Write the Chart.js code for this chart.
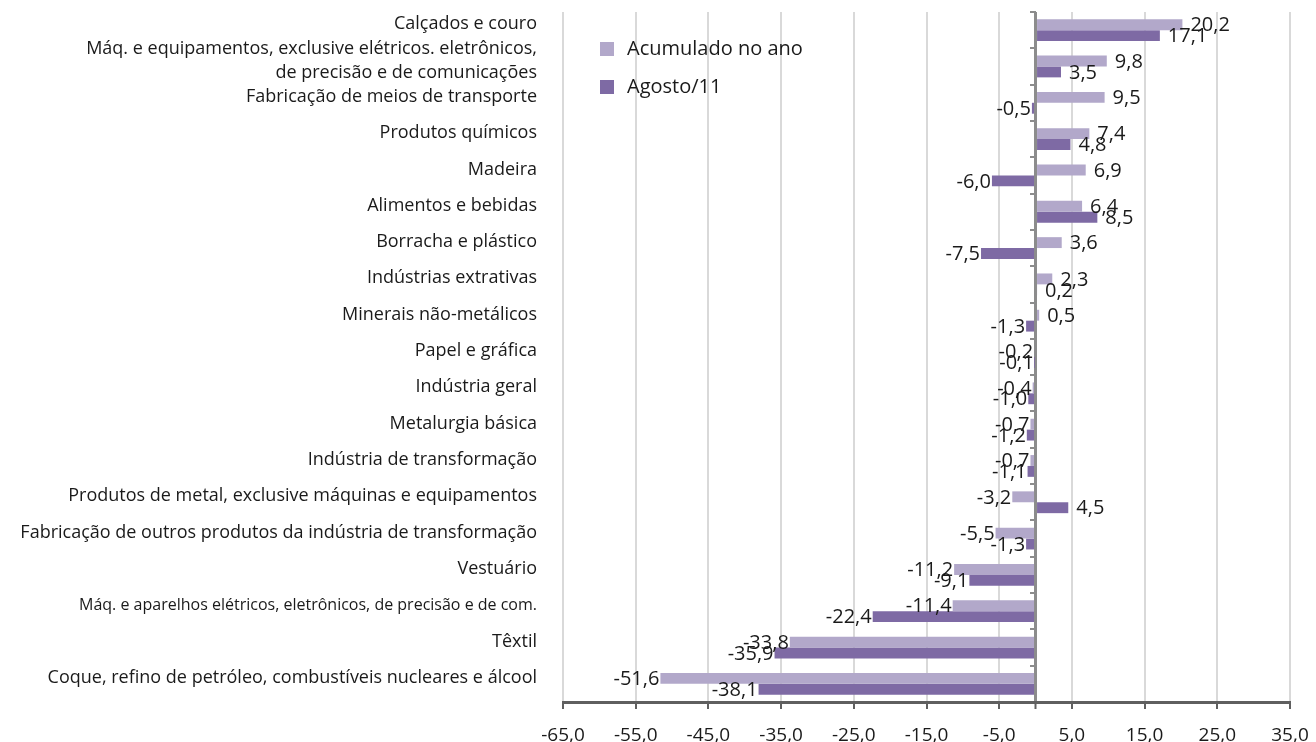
<!DOCTYPE html>
<html>
<head>
<meta charset="utf-8">
<script src="https://cdn.jsdelivr.net/npm/chart.js@4.4.1/dist/chart.umd.min.js"></script>
<style>
  body { margin: 0; background: #fff; }
  #wrap { position: relative; width: 1316px; height: 742px; }
  #legend { position: absolute; left: 600px; top: 34px; font-family: "Open Sans", sans-serif; font-size: 20px; color: #1a1a1a; }
  #legend div { height: 38px; line-height: 28px; white-space: nowrap; }
  #legend span { display: inline-block; width: 14px; height: 14px; margin-right: 13px; vertical-align: -1px; }
</style>
</head>
<body>
<div id="wrap">
  <canvas id="graph" width="1316" height="742"></canvas>
  <div id="legend"></div>
</div>
<script>
var categorias = [
  "Calçados e couro",
  ["Máq. e equipamentos, exclusive elétricos. eletrônicos,", "de precisão e de comunicações"],
  "Fabricação de meios de transporte",
  "Produtos químicos",
  "Madeira",
  "Alimentos e bebidas",
  "Borracha e plástico",
  "Indústrias extrativas",
  "Minerais não-metálicos",
  "Papel e gráfica",
  "Indústria geral",
  "Metalurgia básica",
  "Indústria de transformação",
  "Produtos de metal, exclusive máquinas e equipamentos",
  "Fabricação de outros produtos da indústria de transformação",
  "Vestuário",
  "Máq. e aparelhos elétricos, eletrônicos, de precisão e de com.",
  "Têxtil",
  "Coque, refino de petróleo, combustíveis nucleares e álcool"
];
var acumulado = [20.2, 9.8, 9.5, 7.4, 6.9, 6.4, 3.6, 2.3, 0.5, -0.2, -0.4, -0.7, -0.7, -3.2, -5.5, -11.2, -11.4, -33.8, -51.6];
var agosto = [17.1, 3.5, -0.5, 4.8, -6.0, 8.5, -7.5, 0.2, -1.3, -0.1, -1.0, -1.2, -1.1, 4.5, -1.3, -9.1, -22.4, -35.9, -38.1];
var xMin = -65, xMax = 35, xStep = 10;

var corClara = "#b2a8ca";
var corEscura = "#7e6aa4";

function fmt(v) {
  return v.toFixed(1).replace(".", ",");
}

// rótulos de dados no fim de cada barra
var rotulos = {
  id: "rotulos",
  afterDatasetsDraw: function (chart) {
    var ctx = chart.ctx;
    ctx.save();
    ctx.font = "20px 'Open Sans', sans-serif";
    ctx.fillStyle = "#1a1a1a";
    ctx.textBaseline = "middle";
    chart.data.datasets.forEach(function (ds, i) {
      var meta = chart.getDatasetMeta(i);
      meta.data.forEach(function (bar, j) {
        var v = ds.data[j];
        if (v >= 0) {
          ctx.textAlign = "left";
          ctx.fillText(fmt(v), bar.x + 8, bar.y + 1);
        } else {
          ctx.textAlign = "right";
          ctx.fillText(fmt(v), bar.x - 1, bar.y + 1);
        }
      });
    });
    ctx.restore();
  }
};

var chart = new Chart(document.getElementById("graph").getContext("2d"), {
  type: "bar",
  data: {
    labels: categorias,
    datasets: [
      { label: "Acumulado no ano", data: acumulado, backgroundColor: corClara, categoryPercentage: 0.6, barPercentage: 1 },
      { label: "Agosto/11", data: agosto, backgroundColor: corEscura, categoryPercentage: 0.6, barPercentage: 1 }
    ]
  },
  options: {
    indexAxis: "y",
    responsive: false,
    animation: false,
    layout: { padding: { top: 12, right: 26, bottom: 0, left: 0 } },
    plugins: {
      legend: { display: false },
      tooltip: { enabled: false }
    },
    scales: {
      x: {
        type: "linear",
        min: xMin,
        max: xMax,
        ticks: {
          stepSize: xStep,
          autoSkip: false,
          maxRotation: 0,
          padding: 15,
          color: "#1a1a1a",
          font: { family: "'Open Sans', sans-serif", size: 19 },
          callback: function (v) { return v === 0 ? "" : fmt(v); }
        },
        afterBuildTicks: function (scale) {
          scale.ticks.push({ value: 0 });
          scale.ticks.sort(function (a, b) { return a.value - b.value; });
        },
        grid: {
          color: function (c) { return c.tick && c.tick.value === 0 ? "#8c8c8c" : "#d9d9d9"; },
          lineWidth: function (c) { return c.tick && c.tick.value === 0 ? 3 : 2; },
          tickColor: "#5f5f5f",
          tickWidth: 2,
          tickLength: 7
        },
        border: { display: true, color: "#5f5f5f", width: 3 },
        afterFit: function (scale) {
          scale.height = 40;
          scale.paddingLeft = 0;
          scale.paddingRight = 0;
        }
      },
      y: {
        type: "category",
        position: "left",
        grid: { display: false },
        border: { display: false },
        ticks: {
          autoSkip: false,
          padding: 18,
          labelOffset: -6,
          color: "#1a1a1a",
          font: function (c) {
            return { family: "'Open Sans', sans-serif", size: c.index === 16 ? 16 : 18, lineHeight: 1.33 };
          }
        },
        afterFit: function (scale) {
          scale.width = 563;
          scale.paddingTop = 0;
          scale.paddingBottom = 0;
        }
      },
      y2: {
        type: "category",
        position: { x: 0 },
        offset: true,
        grid: { offset: true, drawOnChartArea: false, tickLength: 6, color: "#8c8c8c", lineWidth: 2 },
        border: { display: false },
        ticks: { display: false },
        afterFit: function (scale) {
          scale.width = 0;
          scale.paddingTop = 0;
          scale.paddingBottom = 0;
        }
      }
    }
  },
  plugins: [rotulos]
});

// legenda
var leg = document.getElementById("legend");
chart.data.datasets.forEach(function (ds) {
  var d = document.createElement("div");
  var s = document.createElement("span");
  s.style.background = ds.backgroundColor;
  d.appendChild(s);
  d.appendChild(document.createTextNode(ds.label));
  leg.appendChild(d);
});
</script>
</body>
</html>
